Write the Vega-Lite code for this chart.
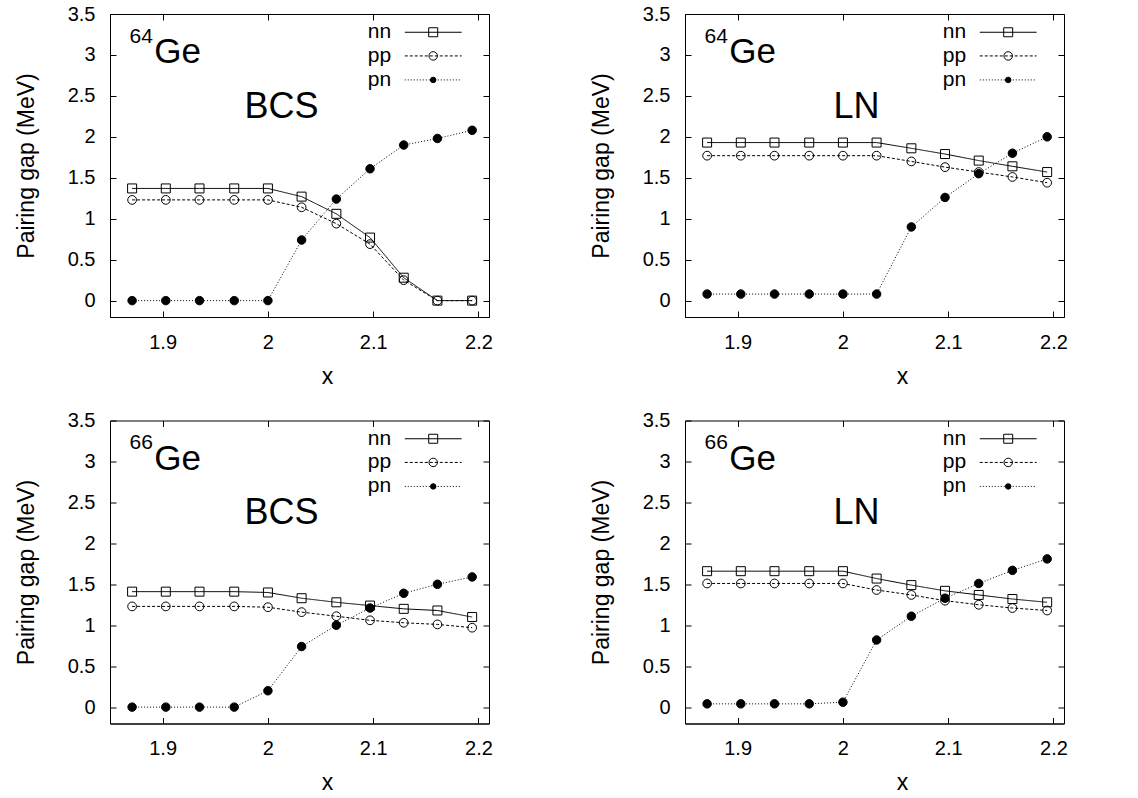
{
  "$schema": "https://vega.github.io/schema/vega-lite/v6.json",
  "autosize": {"type": "pad"},
  "padding": {"left": 14, "top": 3, "right": 0, "bottom": 0},
  "background": "white",
  "config": {
    "font": "Liberation Sans",
    "view": {"stroke": "black", "strokeWidth": 1},
    "axis": {
      "domainColor": "black", "tickColor": "black", "labelColor": "black", "titleColor": "black",
      "labelFont": "Liberation Sans", "titleFont": "Liberation Sans",
      "labelFontSize": 20, "titleFontSize": 23, "titleFontWeight": "normal",
      "tickSize": -6, "grid": false, "labelPadding": 21
    },
    "text": {"font": "Liberation Sans", "color": "black"}
  },
  "data": {"values": [
    {"nucleus":"64","method":"BCS","series":"nn","x":1.871,"gap":1.37},
    {"nucleus":"64","method":"BCS","series":"nn","x":1.903,"gap":1.37},
    {"nucleus":"64","method":"BCS","series":"nn","x":1.935,"gap":1.37},
    {"nucleus":"64","method":"BCS","series":"nn","x":1.968,"gap":1.37},
    {"nucleus":"64","method":"BCS","series":"nn","x":2.0,"gap":1.37},
    {"nucleus":"64","method":"BCS","series":"nn","x":2.032,"gap":1.27},
    {"nucleus":"64","method":"BCS","series":"nn","x":2.065,"gap":1.06},
    {"nucleus":"64","method":"BCS","series":"nn","x":2.097,"gap":0.77},
    {"nucleus":"64","method":"BCS","series":"nn","x":2.129,"gap":0.28},
    {"nucleus":"64","method":"BCS","series":"nn","x":2.161,"gap":0.0},
    {"nucleus":"64","method":"BCS","series":"nn","x":2.194,"gap":0.0},
    {"nucleus":"64","method":"BCS","series":"pp","x":1.871,"gap":1.23},
    {"nucleus":"64","method":"BCS","series":"pp","x":1.903,"gap":1.23},
    {"nucleus":"64","method":"BCS","series":"pp","x":1.935,"gap":1.23},
    {"nucleus":"64","method":"BCS","series":"pp","x":1.968,"gap":1.23},
    {"nucleus":"64","method":"BCS","series":"pp","x":2.0,"gap":1.23},
    {"nucleus":"64","method":"BCS","series":"pp","x":2.032,"gap":1.14},
    {"nucleus":"64","method":"BCS","series":"pp","x":2.065,"gap":0.94},
    {"nucleus":"64","method":"BCS","series":"pp","x":2.097,"gap":0.69},
    {"nucleus":"64","method":"BCS","series":"pp","x":2.129,"gap":0.25},
    {"nucleus":"64","method":"BCS","series":"pp","x":2.161,"gap":0.0},
    {"nucleus":"64","method":"BCS","series":"pp","x":2.194,"gap":0.0},
    {"nucleus":"64","method":"BCS","series":"pn","x":1.871,"gap":0.0},
    {"nucleus":"64","method":"BCS","series":"pn","x":1.903,"gap":0.0},
    {"nucleus":"64","method":"BCS","series":"pn","x":1.935,"gap":0.0},
    {"nucleus":"64","method":"BCS","series":"pn","x":1.968,"gap":0.0},
    {"nucleus":"64","method":"BCS","series":"pn","x":2.0,"gap":0.0},
    {"nucleus":"64","method":"BCS","series":"pn","x":2.032,"gap":0.74},
    {"nucleus":"64","method":"BCS","series":"pn","x":2.065,"gap":1.24},
    {"nucleus":"64","method":"BCS","series":"pn","x":2.097,"gap":1.61},
    {"nucleus":"64","method":"BCS","series":"pn","x":2.129,"gap":1.9},
    {"nucleus":"64","method":"BCS","series":"pn","x":2.161,"gap":1.98},
    {"nucleus":"64","method":"BCS","series":"pn","x":2.194,"gap":2.08},
    {"nucleus":"64","method":"LN","series":"nn","x":1.871,"gap":1.93},
    {"nucleus":"64","method":"LN","series":"nn","x":1.903,"gap":1.93},
    {"nucleus":"64","method":"LN","series":"nn","x":1.935,"gap":1.93},
    {"nucleus":"64","method":"LN","series":"nn","x":1.968,"gap":1.93},
    {"nucleus":"64","method":"LN","series":"nn","x":2.0,"gap":1.93},
    {"nucleus":"64","method":"LN","series":"nn","x":2.032,"gap":1.93},
    {"nucleus":"64","method":"LN","series":"nn","x":2.065,"gap":1.86},
    {"nucleus":"64","method":"LN","series":"nn","x":2.097,"gap":1.79},
    {"nucleus":"64","method":"LN","series":"nn","x":2.129,"gap":1.71},
    {"nucleus":"64","method":"LN","series":"nn","x":2.161,"gap":1.64},
    {"nucleus":"64","method":"LN","series":"nn","x":2.194,"gap":1.57},
    {"nucleus":"64","method":"LN","series":"pp","x":1.871,"gap":1.77},
    {"nucleus":"64","method":"LN","series":"pp","x":1.903,"gap":1.77},
    {"nucleus":"64","method":"LN","series":"pp","x":1.935,"gap":1.77},
    {"nucleus":"64","method":"LN","series":"pp","x":1.968,"gap":1.77},
    {"nucleus":"64","method":"LN","series":"pp","x":2.0,"gap":1.77},
    {"nucleus":"64","method":"LN","series":"pp","x":2.032,"gap":1.77},
    {"nucleus":"64","method":"LN","series":"pp","x":2.065,"gap":1.7},
    {"nucleus":"64","method":"LN","series":"pp","x":2.097,"gap":1.63},
    {"nucleus":"64","method":"LN","series":"pp","x":2.129,"gap":1.57},
    {"nucleus":"64","method":"LN","series":"pp","x":2.161,"gap":1.51},
    {"nucleus":"64","method":"LN","series":"pp","x":2.194,"gap":1.44},
    {"nucleus":"64","method":"LN","series":"pn","x":1.871,"gap":0.08},
    {"nucleus":"64","method":"LN","series":"pn","x":1.903,"gap":0.08},
    {"nucleus":"64","method":"LN","series":"pn","x":1.935,"gap":0.08},
    {"nucleus":"64","method":"LN","series":"pn","x":1.968,"gap":0.08},
    {"nucleus":"64","method":"LN","series":"pn","x":2.0,"gap":0.08},
    {"nucleus":"64","method":"LN","series":"pn","x":2.032,"gap":0.08},
    {"nucleus":"64","method":"LN","series":"pn","x":2.065,"gap":0.9},
    {"nucleus":"64","method":"LN","series":"pn","x":2.097,"gap":1.26},
    {"nucleus":"64","method":"LN","series":"pn","x":2.129,"gap":1.55},
    {"nucleus":"64","method":"LN","series":"pn","x":2.161,"gap":1.8},
    {"nucleus":"64","method":"LN","series":"pn","x":2.194,"gap":2.0},
    {"nucleus":"66","method":"BCS","series":"nn","x":1.871,"gap":1.41},
    {"nucleus":"66","method":"BCS","series":"nn","x":1.903,"gap":1.41},
    {"nucleus":"66","method":"BCS","series":"nn","x":1.935,"gap":1.41},
    {"nucleus":"66","method":"BCS","series":"nn","x":1.968,"gap":1.41},
    {"nucleus":"66","method":"BCS","series":"nn","x":2.0,"gap":1.4},
    {"nucleus":"66","method":"BCS","series":"nn","x":2.032,"gap":1.33},
    {"nucleus":"66","method":"BCS","series":"nn","x":2.065,"gap":1.28},
    {"nucleus":"66","method":"BCS","series":"nn","x":2.097,"gap":1.24},
    {"nucleus":"66","method":"BCS","series":"nn","x":2.129,"gap":1.2},
    {"nucleus":"66","method":"BCS","series":"nn","x":2.161,"gap":1.18},
    {"nucleus":"66","method":"BCS","series":"nn","x":2.194,"gap":1.1},
    {"nucleus":"66","method":"BCS","series":"pp","x":1.871,"gap":1.23},
    {"nucleus":"66","method":"BCS","series":"pp","x":1.903,"gap":1.23},
    {"nucleus":"66","method":"BCS","series":"pp","x":1.935,"gap":1.23},
    {"nucleus":"66","method":"BCS","series":"pp","x":1.968,"gap":1.23},
    {"nucleus":"66","method":"BCS","series":"pp","x":2.0,"gap":1.22},
    {"nucleus":"66","method":"BCS","series":"pp","x":2.032,"gap":1.16},
    {"nucleus":"66","method":"BCS","series":"pp","x":2.065,"gap":1.11},
    {"nucleus":"66","method":"BCS","series":"pp","x":2.097,"gap":1.06},
    {"nucleus":"66","method":"BCS","series":"pp","x":2.129,"gap":1.03},
    {"nucleus":"66","method":"BCS","series":"pp","x":2.161,"gap":1.01},
    {"nucleus":"66","method":"BCS","series":"pp","x":2.194,"gap":0.97},
    {"nucleus":"66","method":"BCS","series":"pn","x":1.871,"gap":0.0},
    {"nucleus":"66","method":"BCS","series":"pn","x":1.903,"gap":0.0},
    {"nucleus":"66","method":"BCS","series":"pn","x":1.935,"gap":0.0},
    {"nucleus":"66","method":"BCS","series":"pn","x":1.968,"gap":0.0},
    {"nucleus":"66","method":"BCS","series":"pn","x":2.0,"gap":0.2},
    {"nucleus":"66","method":"BCS","series":"pn","x":2.032,"gap":0.74},
    {"nucleus":"66","method":"BCS","series":"pn","x":2.065,"gap":1.0},
    {"nucleus":"66","method":"BCS","series":"pn","x":2.097,"gap":1.21},
    {"nucleus":"66","method":"BCS","series":"pn","x":2.129,"gap":1.39},
    {"nucleus":"66","method":"BCS","series":"pn","x":2.161,"gap":1.5},
    {"nucleus":"66","method":"BCS","series":"pn","x":2.194,"gap":1.59},
    {"nucleus":"66","method":"LN","series":"nn","x":1.871,"gap":1.66},
    {"nucleus":"66","method":"LN","series":"nn","x":1.903,"gap":1.66},
    {"nucleus":"66","method":"LN","series":"nn","x":1.935,"gap":1.66},
    {"nucleus":"66","method":"LN","series":"nn","x":1.968,"gap":1.66},
    {"nucleus":"66","method":"LN","series":"nn","x":2.0,"gap":1.66},
    {"nucleus":"66","method":"LN","series":"nn","x":2.032,"gap":1.57},
    {"nucleus":"66","method":"LN","series":"nn","x":2.065,"gap":1.49},
    {"nucleus":"66","method":"LN","series":"nn","x":2.097,"gap":1.42},
    {"nucleus":"66","method":"LN","series":"nn","x":2.129,"gap":1.37},
    {"nucleus":"66","method":"LN","series":"nn","x":2.161,"gap":1.32},
    {"nucleus":"66","method":"LN","series":"nn","x":2.194,"gap":1.28},
    {"nucleus":"66","method":"LN","series":"pp","x":1.871,"gap":1.51},
    {"nucleus":"66","method":"LN","series":"pp","x":1.903,"gap":1.51},
    {"nucleus":"66","method":"LN","series":"pp","x":1.935,"gap":1.51},
    {"nucleus":"66","method":"LN","series":"pp","x":1.968,"gap":1.51},
    {"nucleus":"66","method":"LN","series":"pp","x":2.0,"gap":1.51},
    {"nucleus":"66","method":"LN","series":"pp","x":2.032,"gap":1.43},
    {"nucleus":"66","method":"LN","series":"pp","x":2.065,"gap":1.37},
    {"nucleus":"66","method":"LN","series":"pp","x":2.097,"gap":1.3},
    {"nucleus":"66","method":"LN","series":"pp","x":2.129,"gap":1.25},
    {"nucleus":"66","method":"LN","series":"pp","x":2.161,"gap":1.21},
    {"nucleus":"66","method":"LN","series":"pp","x":2.194,"gap":1.18},
    {"nucleus":"66","method":"LN","series":"pn","x":1.871,"gap":0.04},
    {"nucleus":"66","method":"LN","series":"pn","x":1.903,"gap":0.04},
    {"nucleus":"66","method":"LN","series":"pn","x":1.935,"gap":0.04},
    {"nucleus":"66","method":"LN","series":"pn","x":1.968,"gap":0.04},
    {"nucleus":"66","method":"LN","series":"pn","x":2.0,"gap":0.06},
    {"nucleus":"66","method":"LN","series":"pn","x":2.032,"gap":0.82},
    {"nucleus":"66","method":"LN","series":"pn","x":2.065,"gap":1.11},
    {"nucleus":"66","method":"LN","series":"pn","x":2.097,"gap":1.33},
    {"nucleus":"66","method":"LN","series":"pn","x":2.129,"gap":1.51},
    {"nucleus":"66","method":"LN","series":"pn","x":2.161,"gap":1.67},
    {"nucleus":"66","method":"LN","series":"pn","x":2.194,"gap":1.81}
  ]},
  "facet": {
    "row": {"field": "nucleus", "type": "nominal", "header": {"labels": false, "title": null}},
    "column": {"field": "method", "type": "nominal", "header": {"labels": false, "title": null}}
  },
  "spacing": {"row": 103.5, "column": 196},
  "bounds": "flush",
  "resolve": {"axis": {"x": "independent", "y": "independent"}},
  "spec": {
    "width": 379,
    "height": 303,
    "layer": [
      {
        "layer": [
          {
            "mark": {"type": "line", "color": "black", "strokeWidth": 1},
            "encoding": {
              "x": {"field": "x", "type": "quantitative", "scale": {"domain": [1.85, 2.21], "nice": false, "zero": false},
                    "axis": {"values": [1.9, 2.0, 2.1, 2.2], "format": "~g", "title": "x", "titlePadding": 13, "titleX": 217}},
              "y": {"field": "gap", "type": "quantitative", "scale": {"domain": [-0.2, 3.5], "nice": false, "zero": false},
                    "axis": {"values": [0, 0.5, 1, 1.5, 2, 2.5, 3, 3.5], "format": "~g", "title": "Pairing gap (MeV)", "titlePadding": 29}},
              "strokeDash": {"field": "series", "type": "nominal", "scale": {"domain": ["nn", "pp", "pn"], "range": [[1, 0], [3, 2], [1, 2]]}, "legend": null}
            }
          },
          {
            "mark": {"type": "point", "filled": true, "stroke": "black", "strokeWidth": 1, "opacity": 1},
            "encoding": {
              "x": {"field": "x", "type": "quantitative"},
              "y": {"field": "gap", "type": "quantitative"},
              "shape": {"field": "series", "type": "nominal", "scale": {"domain": ["nn", "pp", "pn"], "range": ["square", "circle", "circle"]}, "legend": null},
              "fill": {"field": "series", "type": "nominal", "scale": {"domain": ["nn", "pp", "pn"], "range": ["transparent", "transparent", "black"]}, "legend": null},
              "size": {"field": "series", "type": "nominal", "scale": {"domain": ["nn", "pp", "pn"], "range": [81, 72, 30]}, "legend": null}
            }
          },
          {
            "transform": [{"aggregate": [{"op": "count", "as": "n"}], "groupby": ["nucleus", "method"]}],
            "layer": [
              {"mark": {"type": "text", "align": "left", "baseline": "alphabetic", "fontSize": 21},
               "encoding": {"x": {"datum": 1.8685, "type": "quantitative"}, "y": {"datum": 3.146, "type": "quantitative"}, "text": {"field": "nucleus"}}},
              {"mark": {"type": "text", "align": "left", "baseline": "alphabetic", "fontSize": 35, "text": "Ge"},
               "encoding": {"x": {"datum": 1.892, "type": "quantitative"}, "y": {"datum": 2.9, "type": "quantitative"}}},
              {"mark": {"type": "text", "align": "center", "baseline": "alphabetic", "fontSize": 36},
               "encoding": {"x": {"datum": 2.013, "type": "quantitative"}, "y": {"datum": 2.232, "type": "quantitative"}, "text": {"field": "method"}}},
              {"mark": {"type": "text", "align": "right", "baseline": "middle", "fontSize": 21, "text": "nn"},
               "encoding": {"x": {"datum": 2.117, "type": "quantitative"}, "y": {"datum": 3.277, "type": "quantitative"}}},
              {"mark": {"type": "text", "align": "right", "baseline": "middle", "fontSize": 21, "text": "pp"},
               "encoding": {"x": {"datum": 2.117, "type": "quantitative"}, "y": {"datum": 2.988, "type": "quantitative"}}},
              {"mark": {"type": "text", "align": "right", "baseline": "middle", "fontSize": 21, "text": "pn"},
               "encoding": {"x": {"datum": 2.117, "type": "quantitative"}, "y": {"datum": 2.695, "type": "quantitative"}}},
              {"mark": {"type": "rule", "color": "black", "strokeWidth": 1},
               "encoding": {"x": {"datum": 2.13, "type": "quantitative"}, "x2": {"datum": 2.184}, "y": {"datum": 3.277, "type": "quantitative"}}},
              {"mark": {"type": "rule", "color": "black", "strokeWidth": 1, "strokeDash": [3, 2]},
               "encoding": {"x": {"datum": 2.13, "type": "quantitative"}, "x2": {"datum": 2.184}, "y": {"datum": 2.988, "type": "quantitative"}}},
              {"mark": {"type": "rule", "color": "black", "strokeWidth": 1, "strokeDash": [1, 2]},
               "encoding": {"x": {"datum": 2.13, "type": "quantitative"}, "x2": {"datum": 2.184}, "y": {"datum": 2.695, "type": "quantitative"}}},
              {"mark": {"type": "point", "shape": "square", "size": 81, "filled": false, "stroke": "black", "strokeWidth": 1, "opacity": 1},
               "encoding": {"x": {"datum": 2.157, "type": "quantitative"}, "y": {"datum": 3.277, "type": "quantitative"}}},
              {"mark": {"type": "point", "shape": "circle", "size": 72, "filled": false, "stroke": "black", "strokeWidth": 1, "opacity": 1},
               "encoding": {"x": {"datum": 2.157, "type": "quantitative"}, "y": {"datum": 2.988, "type": "quantitative"}}},
              {"mark": {"type": "point", "shape": "circle", "size": 30, "filled": true, "color": "black", "stroke": "black", "strokeWidth": 1, "opacity": 1},
               "encoding": {"x": {"datum": 2.157, "type": "quantitative"}, "y": {"datum": 2.695, "type": "quantitative"}}}
            ]
          }
        ]
      },
      {
        "mark": {"type": "point", "opacity": 0},
        "encoding": {
          "x": {"field": "x", "type": "quantitative", "scale": {"domain": [1.85, 2.21], "nice": false, "zero": false},
                "axis": {"orient": "top", "values": [1.9, 2.0, 2.1, 2.2], "labels": false, "domain": false, "title": null}},
          "y": {"field": "gap", "type": "quantitative", "scale": {"domain": [-0.2, 3.5], "nice": false, "zero": false},
                "axis": {"orient": "right", "values": [0, 0.5, 1, 1.5, 2, 2.5, 3, 3.5], "labels": false, "domain": false, "title": null}}
        }
      }
    ],
    "resolve": {"scale": {"x": "independent", "y": "independent"}}
  }
}
